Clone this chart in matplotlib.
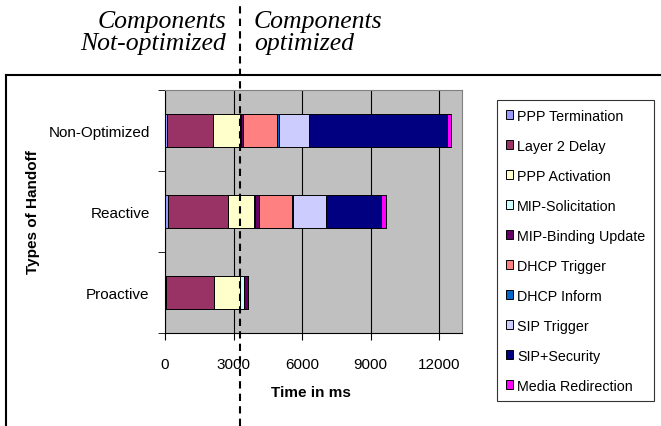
import numpy as np
import matplotlib.pyplot as plt
from matplotlib.lines import Line2D
from matplotlib.patches import Patch

plt.rcParams['font.family'] = ['Liberation Sans', 'DejaVu Sans']

handoffs = ["Non-Optimized", "Reactive", "Proactive"]
components = ["PPP Termination", "Layer 2 Delay", "PPP Activation", "MIP-Solicitation",
              "MIP-Binding Update", "DHCP Trigger", "DHCP Inform", "SIP Trigger",
              "SIP+Security", "Media Redirection"]
colors = ["#9999FF", "#993366", "#FFFFCC", "#CCFFFF", "#660066",
          "#FF8080", "#0066CC", "#CCCCFF", "#000080", "#FF00FF"]

# delay of each component in ms (rows follow handoffs)
non_optimized = [70, 2020, 1195, 30, 105, 1500, 80, 1320, 6020, 170]
reactive = [140, 2605, 1165, 40, 170, 1430, 50, 1450, 2410, 210]
proactive = [30, 2130, 1130, 170, 180, 0, 0, 0, 0, 0]
x_ticks = [0, 3000, 6000, 9000, 12000]

fig = plt.figure(figsize=(6.61, 4.27), dpi=100)
ax = fig.add_axes([165 / 661, 1 - 334 / 427, 297 / 661, 243 / 427])
ax.set_facecolor("#C0C0C0")

data = np.array([non_optimized, reactive, proactive])
ypos = np.array([2, 1, 0])
left = np.zeros(len(handoffs))
for i, name in enumerate(components):
    ax.barh(ypos, data[:, i], left=left, height=0.41, color=colors[i],
            edgecolor="black", linewidth=0.7, label=name, zorder=3)
    left += data[:, i]

ax.set_xlim(0, 13000)
ax.set_ylim(-0.5, 2.5)
ax.set_xticks(x_ticks)
ax.set_xticklabels([str(t) for t in x_ticks], fontsize=11)
ax.set_yticks(ypos)
ax.set_yticklabels(handoffs, fontsize=11)
ax.set_yticks([-0.5, 0.5, 1.5, 2.5], minor=True)
ax.tick_params(axis="y", which="major", length=0, pad=11)
ax.tick_params(axis="y", which="minor", length=5, direction="out")
ax.tick_params(axis="x", length=5, direction="out", pad=12)
ax.xaxis.grid(True, color="black", linewidth=0.8, zorder=1)
ax.set_axisbelow(True)
for s in ["top", "right"]:
    ax.spines[s].set_color("#808080")
ax.set_xlabel("Time in ms", fontsize=11, fontweight="bold")
ax.xaxis.set_label_coords(0.49, -(393 - 334) / 243, transform=ax.transAxes)
ax.xaxis.label.set_va("center")
ax.set_ylabel("Types of Handoff", fontsize=11, fontweight="bold")
ax.yaxis.set_label_coords(-(165 - 33) / 297, 0.5)
ax.yaxis.label.set_va("center")

handles = [Patch(facecolor=c, edgecolor="black", linewidth=0.7) for c in colors]
leg = fig.legend(handles, components, loc="upper left",
                 bbox_to_anchor=(497 / 661, 1 - 101 / 427), fontsize=10.3,
                 frameon=True, fancybox=False, edgecolor="black",
                 handlelength=0.55, handleheight=0.55, handletextpad=0.25,
                 labelspacing=1.12, borderpad=0.6, borderaxespad=0)
leg.get_frame().set_linewidth(0.8)

# outer chart box
fig.add_artist(Line2D([5.5 / 661, 1], [1 - 76 / 427, 1 - 76 / 427], color="black", linewidth=1.5))
fig.add_artist(Line2D([5.5 / 661, 5.5 / 661], [0, 1 - 76 / 427], color="black", linewidth=1.5))

# separator between not-optimized and optimized components
fig.add_artist(Line2D([239.5 / 661, 239.5 / 661], [0, 1 - 5 / 427], color="black",
                      linewidth=1.5, linestyle=(0, (3.5, 2.5)), zorder=10))

serif = dict(family="Liberation Serif", style="italic", fontsize=18.5, va="baseline")
fig.text(226 / 661, 1 - 28 / 427, "Components", ha="right", **serif)
fig.text(226 / 661, 1 - 50 / 427, "Not-optimized", ha="right", **serif)
fig.text(254 / 661, 1 - 28 / 427, "Components", ha="left", **serif)
fig.text(254 / 661, 1 - 50 / 427, "optimized", ha="left", **serif)

fig.savefig("out.png", dpi=100)
